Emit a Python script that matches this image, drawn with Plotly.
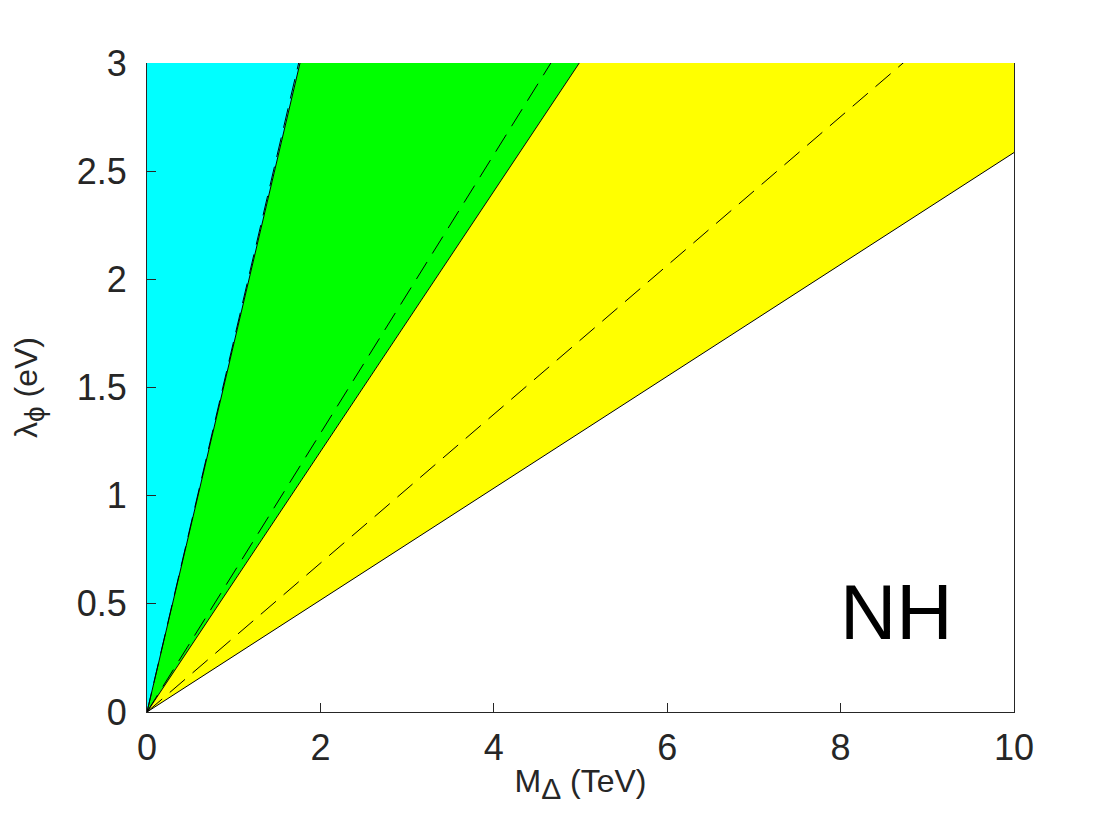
import plotly.graph_objects as go

# M_Delta grid end points (TeV)
M_ends = [0, 10]
# lambda_phi (eV) values of each boundary line at M_ends (lines through the origin)
cyan_green_line = [0, 17.0]
green_yellow_line = [0, 6.017]
yellow_lower_line = [0, 2.586]
dashed_cyan = [0, 17.15]
dashed_green = [0, 6.44]
dashed_yellow = [0, 3.44]

x_ticks = [0, 2, 4, 6, 8, 10]
y_ticks = [0, 0.5, 1, 1.5, 2, 2.5, 3]
y_tick_text = ["0", "0.5", "1", "1.5", "2", "2.5", "3"]

font_family = "Liberation Sans, Arial, Helvetica, sans-serif"
tick_color = "#262626"

fig = go.Figure()

# cyan region: left of cyan/green line
fig.add_trace(go.Scatter(
    x=[M_ends[0], M_ends[1], M_ends[0]],
    y=[cyan_green_line[0], cyan_green_line[1], cyan_green_line[1]],
    fill="toself", fillcolor="#00ffff", mode="none", showlegend=False, hoverinfo="skip"))
# green region
fig.add_trace(go.Scatter(
    x=[M_ends[0], M_ends[1], M_ends[1]],
    y=[green_yellow_line[0], green_yellow_line[1], cyan_green_line[1]],
    fill="toself", fillcolor="#00ff00", mode="none", showlegend=False, hoverinfo="skip"))
# yellow region
fig.add_trace(go.Scatter(
    x=[M_ends[0], M_ends[1], M_ends[1]],
    y=[yellow_lower_line[0], yellow_lower_line[1], green_yellow_line[1]],
    fill="toself", fillcolor="#ffff00", mode="none", showlegend=False, hoverinfo="skip"))

for ys in [cyan_green_line, green_yellow_line, yellow_lower_line]:
    fig.add_trace(go.Scatter(x=M_ends, y=ys, mode="lines",
                             line=dict(color="black", width=1),
                             showlegend=False, hoverinfo="skip"))
for ys in [dashed_cyan, dashed_green, dashed_yellow]:
    fig.add_trace(go.Scatter(x=M_ends, y=ys, mode="lines",
                             line=dict(color="black", width=1, dash="20px,10px"),
                             showlegend=False, hoverinfo="skip"))

fig.add_annotation(x=8.64, y=0.462, xref="x", yref="y", text="NH", showarrow=False,
                   font=dict(family=font_family, size=78, color="black"))

# page body has an 8px margin: shift the figure so the plot area lands where it should
fig.update_layout(
    width=1120, height=840,
    margin=dict(l=139, r=114, t=55, b=136, autoexpand=False),
    plot_bgcolor="white", paper_bgcolor="white",
    font=dict(family=font_family, color=tick_color),
    xaxis=dict(range=[0, 10], tickvals=x_ticks, ticks="inside", ticklen=9,
               tickcolor=tick_color, showline=True, linecolor=tick_color, linewidth=1,
               mirror=False, showgrid=False, zeroline=False, automargin=False,
               tickfont=dict(size=36, color=tick_color), ticklabelstandoff=4,
               title=dict(text="M<sub><span style='font-size:30px'>Δ</span></sub> (TeV)",
                          font=dict(size=32, color=tick_color), standoff=2)),
    yaxis=dict(range=[0, 3], tickvals=y_ticks, ticktext=y_tick_text, ticks="inside",
               ticklen=9, tickcolor=tick_color, showline=True, linecolor=tick_color,
               linewidth=1, mirror=True, showgrid=False, zeroline=False, automargin=False,
               tickfont=dict(size=36, color=tick_color), ticklabelstandoff=12,
               title=dict(text="λ<sub><span style='font-size:28px'>ϕ</span></sub> (eV)",
                          font=dict(size=32, color=tick_color), standoff=30)),
)

fig.write_html("out.html")
